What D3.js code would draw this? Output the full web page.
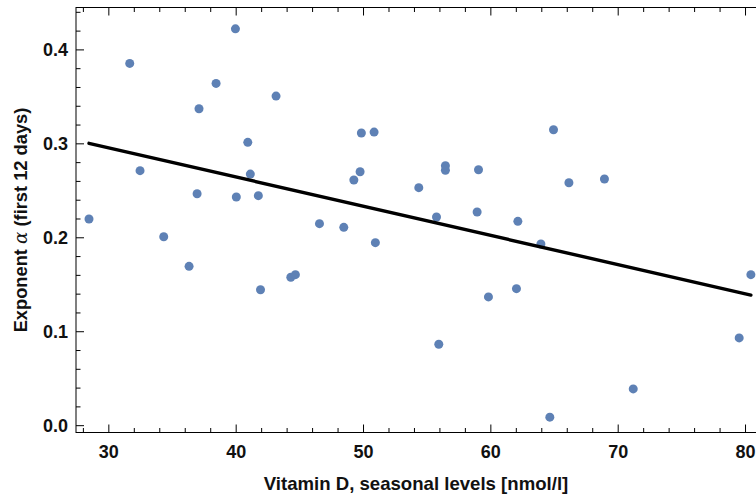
<!DOCTYPE html>
<html>
<head>
<meta charset="utf-8">
<script src="https://cdn.jsdelivr.net/npm/d3@7"></script>
<style>
  html, body { margin: 0; padding: 0; background: #fff; }
  svg { display: block; }
</style>
</head>
<body>
<svg id="chart" width="756" height="499"></svg>
<script>
// ---- data ----
const vitaminD = [28.48, 31.68, 32.49, 34.35, 36.34, 36.97, 37.12, 38.46, 39.98, 40.05,
  40.95, 41.15, 41.78, 41.95, 43.17, 44.33, 44.69, 46.58, 48.49, 49.28,
  49.77, 49.87, 50.87, 50.97, 54.38, 55.77, 55.95, 56.47, 56.47, 58.96,
  59.07, 59.85, 62.05, 62.16, 63.97, 64.67, 64.96, 66.17, 68.96, 71.22,
  79.54, 80.46];
const exponentAlpha = [0.2195, 0.3851, 0.2709, 0.2006, 0.1691, 0.2464, 0.3368, 0.3638, 0.4219, 0.2429,
  0.3011, 0.2673, 0.2443, 0.1441, 0.3503, 0.1574, 0.1602, 0.2145, 0.2106, 0.2610,
  0.2698, 0.3110, 0.3120, 0.1943, 0.2528, 0.2216, 0.0862, 0.2762, 0.2713, 0.2269,
  0.2719, 0.1365, 0.1453, 0.2170, 0.1929, 0.0085, 0.3145, 0.2581, 0.2620, 0.0386,
  0.0929, 0.1602];
const fitIntercept = 0.3886;
const fitSlope = -0.003109;
const xTickValues = [30, 40, 50, 60, 70, 80];
const yTickValues = [0.0, 0.1, 0.2, 0.3, 0.4];
const xTitle = "Vitamin D, seasonal levels [nmol/l]";

// ---- layout ----
const svg = d3.select("#chart");
const L = 76, R = 757, T = 7.5, B = 432.5;
const x = d3.scaleLinear().domain([27.46, 80.94]).range([L, R]);
const y = d3.scaleLinear().domain([-0.0078, 0.4446]).range([B, T]);

const xMinor = d3.range(28, 81, 2).filter(v => !xTickValues.includes(v));
const yMinor = d3.range(0, 45, 2).map(v => v / 100).filter(v => !yTickValues.some(t => Math.abs(t - v) < 1e-9));

const frameColor = "#000";
const font = "'Liberation Sans', Arial, sans-serif";

// frame
svg.append("rect").attr("x", L).attr("y", T).attr("width", R - L).attr("height", B - T)
  .attr("fill", "none").attr("stroke", frameColor).attr("stroke-width", 1);

// axes with inner ticks
function addAxis(axisFn, scale, vals, size, transform) {
  const g = svg.append("g").attr("transform", transform)
    .call(axisFn(scale).tickValues(vals).tickSize(size).tickFormat(""));
  g.select(".domain").remove();
  g.selectAll(".tick line").attr("stroke", frameColor).attr("stroke-width", 1);
  return g;
}
// bottom
addAxis(d3.axisTop, x, xTickValues, 8, `translate(0,${B})`);
addAxis(d3.axisTop, x, xMinor, 4.5, `translate(0,${B})`);
// top
addAxis(d3.axisBottom, x, xTickValues, 8, `translate(0,${T})`);
addAxis(d3.axisBottom, x, xMinor, 4.5, `translate(0,${T})`);
// left
addAxis(d3.axisRight, y, yTickValues, 8, `translate(${L},0)`);
addAxis(d3.axisRight, y, yMinor, 4.5, `translate(${L},0)`);

// tick labels
const xLab = svg.append("g").attr("transform", `translate(0,${B})`)
  .call(d3.axisBottom(x).tickValues(xTickValues).tickSize(0).tickPadding(0).tickFormat(d3.format("d")));
xLab.select(".domain").remove();
xLab.selectAll("text").attr("y", 0).attr("dy", 0)
  .attr("transform", "translate(0,25)")
  .attr("font-family", font).attr("font-weight", "bold").attr("font-size", 18).attr("fill", "#111");

const yLab = svg.append("g").attr("transform", `translate(${L},0)`)
  .call(d3.axisLeft(y).tickValues(yTickValues).tickSize(0).tickPadding(8).tickFormat(d3.format(".1f")));
yLab.select(".domain").remove();
yLab.selectAll("text").attr("dy", "0.36em")
  .attr("font-family", font).attr("font-weight", "bold").attr("font-size", 18).attr("fill", "#111");

// axis titles
svg.append("text").attr("x", (L + 756) / 2).attr("y", 490).attr("text-anchor", "middle")
  .attr("font-family", font).attr("font-weight", "bold").attr("font-size", 18.6).attr("fill", "#111")
  .text(xTitle);

const yt = svg.append("text").attr("transform", `translate(27,${(T + B) / 2}) rotate(-90)`)
  .attr("text-anchor", "middle")
  .attr("font-family", font).attr("font-weight", "bold").attr("font-size", 18.3).attr("fill", "#111");
yt.append("tspan").text("Exponent ");
yt.append("tspan").attr("font-style", "italic").attr("font-weight", "normal")
  .attr("font-family", "'DejaVu Serif', 'Liberation Serif', serif").text("α");
yt.append("tspan").text(" (first 12 days)");

// points
const plot = svg.append("g");
plot.selectAll("circle").data(d3.range(vitaminD.length)).join("circle")
  .attr("cx", i => x(vitaminD[i])).attr("cy", i => y(exponentAlpha[i]))
  .attr("r", 4.5).attr("fill", "#5E81B5");

// fit line
const xExt = d3.extent(vitaminD);
svg.append("line")
  .attr("x1", x(xExt[0])).attr("y1", y(fitIntercept + fitSlope * xExt[0]))
  .attr("x2", x(xExt[1])).attr("y2", y(fitIntercept + fitSlope * xExt[1]))
  .attr("stroke", "#000").attr("stroke-width", 3.4).attr("stroke-linecap", "round");
</script>
</body>
</html>
